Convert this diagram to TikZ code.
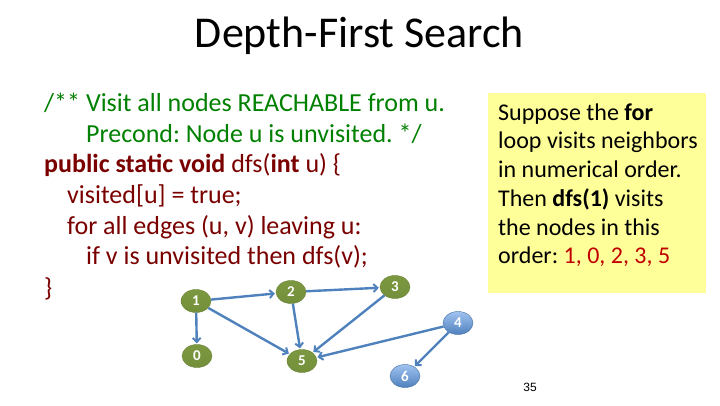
\documentclass[tikz,border=0pt]{standalone}
\usepackage{fontspec}
\setmainfont{Carlito}
\newfontfamily\pnfont{Liberation Sans}
\usetikzlibrary{arrows.meta,shapes.geometric}
\definecolor{cmtgreen}{RGB}{0,128,0}
\definecolor{codered}{RGB}{122,0,0}
\definecolor{boxyellow}{RGB}{255,255,153}
\definecolor{ordred}{RGB}{192,0,0}
\definecolor{edgeblue}{RGB}{79,129,189}
\definecolor{nodegreen}{RGB}{116,143,58}
\definecolor{nodegreenlt}{RGB}{124,152,64}
\definecolor{nodeblue}{RGB}{79,129,189}
\definecolor{nodebluelt}{RGB}{160,195,240}
\begin{document}
\frenchspacing
\begin{tikzpicture}[x=1pt,y=-1pt,
  titlestyle/.style={anchor=base, inner sep=0, font=\fontsize{44}{53}\selectfont},
  cmt/.style={anchor=base west, inner sep=0, text=cmtgreen, font=\fontsize{26}{31}\selectfont},
  code/.style={anchor=base west, inner sep=0, text=codered, font=\fontsize{26}{31}\selectfont},
  boxtxt/.style={anchor=base west, inner sep=0, text=black, font=\fontsize{24}{29}\selectfont},
  gnode/.style={ellipse, minimum width=30pt, minimum height=23pt, inner sep=0,
    text=white, font=\fontsize{15}{17}\selectfont\bfseries},
  gn/.style={gnode, top color=nodegreenlt, bottom color=nodegreen, draw=nodegreen!90!black, line width=0.4pt},
  bn/.style={gnode, top color=nodebluelt, bottom color=nodeblue, draw=nodeblue!85!black, line width=0.4pt},
  edge/.style={draw=edgeblue, line width=2.4pt, -{Straight Barb[length=4pt,width=8pt,line width=2pt]}, shorten >=1pt}
]
\useasboundingbox (0,0) rectangle (720,405);
\node[titlestyle] (title) at (359.5,47) {Depth-First Search};

\node[cmt] (l1) at (44,111) {/** Visit all nodes REACHABLE from u.};
\node[cmt] (l2) at (86,142) {Precond: Node u is unvisited. */};
\node[code] (l3) at (44,172) {\textbf{public static void} dfs(\textbf{int} u) \{};
\node[code] (l4) at (67,203) {visited[u] = true;};
\node[code] (l5) at (67,234) {for all edges (u, v) leaving u:};
\node[code] (l6) at (86,264) {if v is unvisited then dfs(v);};
\node[code] (l7) at (44,296) {\}};

\node[fill=boxyellow, anchor=north west, minimum width=218pt, minimum height=200pt, inner sep=0] (box) at (488,93) {};
\node[boxtxt] (b1) at (498,120) {Suppose the \textbf{for}};
\node[boxtxt] (b2) at (498,148) {loop visits neighbors};
\node[boxtxt] (b3) at (498,177) {in numerical order.};
\node[boxtxt] (b4) at (498,206) {Then \textbf{dfs(1)} visits};
\node[boxtxt] (b5) at (498,235) {the nodes in this};
\node[boxtxt] (b6) at (498,263) {order: \textcolor{ordred}{1, 0, 2, 3, 5}};

\node[gn] (n1) at (196,301) {1};
\node[gn] (n2) at (291,292) {2};
\node[gn] (n3) at (395,287) {3};
\node[bn] (n4) at (458,323) {4};
\node[gn] (n0) at (197,356) {0};
\node[gn] (n5) at (302,361) {5};
\node[bn] (n6) at (405,376) {6};

\draw[edge] (n1) -- (n2);
\draw[edge] (n2) -- (n3);
\draw[edge] (n1) -- (n0);
\draw[edge] (n1) -- (n5);
\draw[edge] (n2) -- (n5);
\draw[edge] (n3) -- (n5);
\draw[edge] (n4) -- (n5);
\draw[edge] (n4) -- (n6);

\node[inner sep=0, font=\pnfont\fontsize{12}{14}\selectfont] (pg) at (530,387) {35};
\end{tikzpicture}
\end{document}
